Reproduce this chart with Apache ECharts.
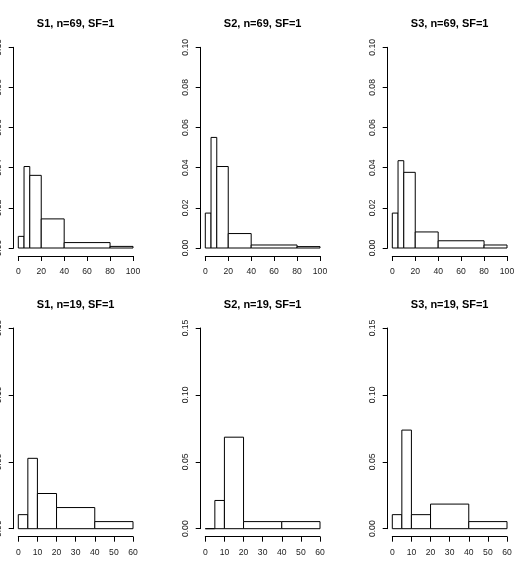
<!DOCTYPE html>
<html>
<head>
<meta charset="utf-8">
<script src="https://cdn.jsdelivr.net/npm/echarts@6/dist/echarts.min.js"></script>
<style>
  html, body { margin: 0; padding: 0; background: #fff; }
  #chart { width: 516px; height: 574px; }
</style>
</head>
<body>
<div id="chart"></div>
<script>
// histogram breaks
var breaksTop = [0, 5, 10, 20, 40, 80, 100]
var breaksBottom = [0, 5, 10, 20, 40, 60]

// densities
var s1n69 = [0.0058, 0.0406, 0.0362, 0.0145, 0.0027, 0.0008]
var s2n69 = [0.0174, 0.0551, 0.0406, 0.0072, 0.0015, 0.0007]
var s3n69 = [0.0174, 0.0435, 0.0377, 0.0080, 0.0036, 0.0015]
var s1n19 = [0.0105, 0.0526, 0.0263, 0.0158, 0.0053]
var s2n19 = [0, 0.0211, 0.0684, 0.0053, 0.0053]
var s3n19 = [0.0105, 0.0737, 0.0105, 0.0184, 0.0053]

var titles = ['S1, n=69, SF=1', 'S2, n=69, SF=1', 'S3, n=69, SF=1',
              'S1, n=19, SF=1', 'S2, n=19, SF=1', 'S3, n=19, SF=1']

var xTicksTop = [0, 100, 20]       // min, max, interval
var xTicksBottom = [0, 60, 10]
var yTicksTop = [0, 0.10, 0.02]
var yTicksBottom = [0, 0.15, 0.05]

var panels = [
  { breaks: breaksTop, dens: s1n69, x: xTicksTop, y: yTicksTop },
  { breaks: breaksTop, dens: s2n69, x: xTicksTop, y: yTicksTop },
  { breaks: breaksTop, dens: s3n69, x: xTicksTop, y: yTicksTop },
  { breaks: breaksBottom, dens: s1n19, x: xTicksBottom, y: yTicksBottom },
  { breaks: breaksBottom, dens: s2n19, x: xTicksBottom, y: yTicksBottom },
  { breaks: breaksBottom, dens: s3n19, x: xTicksBottom, y: yTicksBottom }
]

// layout of data regions
var lefts = [18.3, 205.3, 392.3]
var tops = [47.3, 328]
var plotW = 114.7
var plotH = 200.7
var font = 'Liberation Sans, Arial, Helvetica, sans-serif'

var chart = echarts.init(document.getElementById('chart'), null, { renderer: 'canvas' })

var option = {
  backgroundColor: '#fff',
  animation: false,
  title: [],
  grid: [],
  xAxis: [],
  yAxis: [],
  series: []
}

panels.forEach(function (p, i) {
  var col = i % 3
  var row = Math.floor(i / 3)
  var left = lefts[col]
  var top = tops[row]

  option.title.push({
    text: titles[i],
    left: left + plotW / 2,
    top: top - 29,
    textAlign: 'center',
    padding: 0,
    textStyle: { fontFamily: font, fontSize: 11, fontWeight: 'bold', color: '#000' }
  })

  option.grid.push({
    left: left, top: top, width: plotW, height: plotH,
    containLabel: false,
    outerBoundsMode: 'none'
  })

  option.xAxis.push({
    type: 'value',
    gridIndex: i,
    position: 'bottom',
    min: p.x[0], max: p.x[1], interval: p.x[2],
    offset: 8,
    splitLine: { show: false },
    axisLine: { show: true, onZero: false, lineStyle: { color: '#000', width: 1 } },
    axisTick: { show: true, inside: false, length: 5, lineStyle: { color: '#000' } },
    axisLabel: {
      margin: 11, fontFamily: font, fontSize: 8.6, color: '#222',
      showMinLabel: true, showMaxLabel: true, hideOverlap: false
    }
  })

  option.yAxis.push({
    type: 'value',
    gridIndex: i,
    position: 'left',
    min: p.y[0], max: p.y[1], interval: p.y[2],
    offset: 4.6,
    splitLine: { show: false },
    axisLine: { show: true, onZero: false, lineStyle: { color: '#000', width: 1 } },
    axisTick: { show: true, inside: false, length: 5, lineStyle: { color: '#000' } },
    axisLabel: {
      rotate: 90, margin: 11, fontFamily: font, fontSize: 8.6, color: '#222',
      showMinLabel: true, showMaxLabel: true, hideOverlap: false,
      formatter: function (v) { return v.toFixed(2) }
    }
  })

  var data = p.dens.map(function (d, k) {
    return [p.breaks[k], p.breaks[k + 1], d]
  })

  option.series.push({
    type: 'custom',
    xAxisIndex: i,
    yAxisIndex: i,
    data: data,
    encode: { x: [0, 1], y: 2 },
    clip: false,
    renderItem: function (params, api) {
      var a = api.coord([api.value(0), api.value(2)])
      var b = api.coord([api.value(1), 0])
      return {
        type: 'rect',
        shape: { x: a[0], y: a[1], width: b[0] - a[0], height: b[1] - a[1] },
        style: { fill: '#fff', stroke: '#000', lineWidth: 1 }
      }
    }
  })
})

chart.setOption(option)
</script>
</body>
</html>
